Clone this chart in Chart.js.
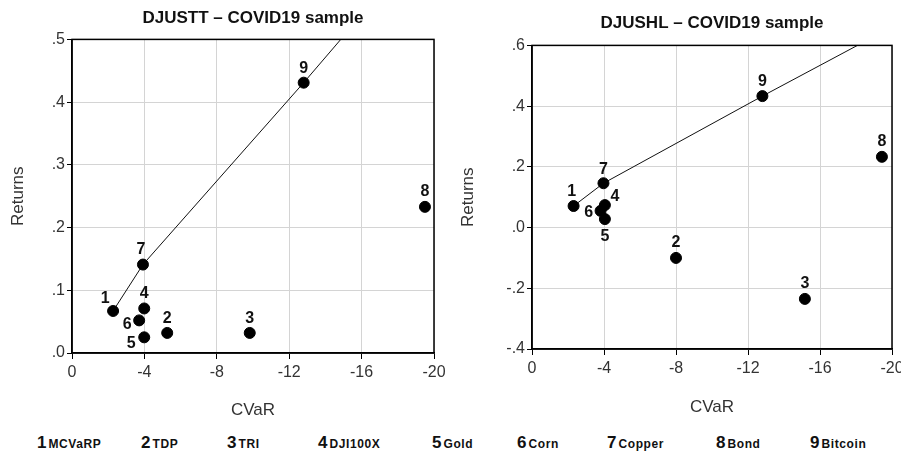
<!DOCTYPE html>
<html>
<head>
<meta charset="utf-8">
<script src="https://cdn.jsdelivr.net/npm/chart.js@4.4.1/dist/chart.umd.min.js"></script>
<style>
  html, body { margin: 0; padding: 0; background: #fff; overflow: hidden; }
  body { width: 901px; height: 455px; position: relative; font-family: "Liberation Sans", Arial, sans-serif; }
  canvas { position: absolute; top: 0; }
  #c1 { left: 0; }
  #c2 { left: 450px; }
  .leg { position: absolute; top: 433px; white-space: nowrap; color: #111; font-weight: bold; }
  .leg b { font-size: 17px; }
  .leg span { font-size: 12px; letter-spacing: 0.6px; margin-left: 2px; }
</style>
</head>
<body>
<canvas id="c1" width="450" height="425"></canvas>
<canvas id="c2" width="459" height="425"></canvas>
<div id="legend"></div>
<script>
// assets (1..9)
const assetNames = ["MCVaRP", "TDP", "TRI", "DJI100X", "Gold", "Corn", "Copper", "Bond", "Bitcoin"];
const assetIds = ["1", "2", "3", "4", "5", "6", "7", "8", "9"];

// DJUSTT panel
const djusttCVaR = [-2.27, -5.26, -9.82, -3.99, -3.99, -3.71, -3.92, -19.5, -12.8];
const djusttRet = [0.067, 0.032, 0.032, 0.071, 0.025, 0.052, 0.141, 0.233, 0.431];
const djusttFrontX = [-2.27, -3.92, -12.8, -14.85];
const djusttFrontY = [0.067, 0.141, 0.431, 0.5];

// DJUSHL panel
const djushlCVaR = [-2.31, -8.0, -15.16, -4.05, -4.05, -3.81, -3.97, -19.44, -12.8];
const djushlRet = [0.071, -0.100, -0.235, 0.074, 0.028, 0.055, 0.146, 0.233, 0.433];
const djushlFrontX = [-2.31, -3.97, -12.8, -18.08];
const djushlFrontY = [0.071, 0.146, 0.433, 0.6];

// label placement around each point (dx, dy in px)
const labelOffL = [[-8, -12], [0, -14], [0, -14], [0, -15], [-13, 6], [-12, 4], [-2, -15], [0, -15], [0, -14]];
const labelOffR = [[-2, -14], [0, -15], [0, -15], [10, -8], [0, 18], [-12, 2], [0, -14], [0, -15], [0, -15]];

const legendX = [37, 141, 227, 318, 432, 517, 607, 716, 810];

const FONT = "'Liberation Sans', Arial, sans-serif";

const pointLabels = {
  id: 'pointLabels',
  afterDatasetsDraw(chart, args, opts) {
    const ctx = chart.ctx;
    const meta = chart.getDatasetMeta(1);
    ctx.save();
    ctx.font = 'bold 16px ' + FONT;
    ctx.fillStyle = '#111';
    ctx.textAlign = 'center';
    ctx.textBaseline = 'middle';
    meta.data.forEach((pt, i) => {
      const off = opts.offsets[i];
      ctx.fillText(assetIds[i], pt.x + off[0], pt.y + off[1]);
    });
    ctx.restore();
  }
};

const frame = {
  id: 'frame',
  afterDraw(chart) {
    const a = chart.chartArea;
    const ctx = chart.ctx;
    ctx.save();
    ctx.strokeStyle = '#000';
    ctx.lineWidth = 1.5;
    ctx.strokeRect(a.left, a.top, a.right - a.left, a.bottom - a.top);
    ctx.restore();
  }
};

function makeChart(id, o) {
  const pts = o.xs.map((x, i) => ({ x: x, y: o.ys[i] }));
  const front = o.fx.map((x, i) => ({ x: x, y: o.fy[i] }));
  return new Chart(document.getElementById(id), {
    type: 'scatter',
    data: {
      datasets: [
        {
          data: front,
          showLine: true,
          borderColor: '#111',
          borderWidth: 1,
          pointRadius: 0,
          order: 2
        },
        {
          data: pts,
          backgroundColor: '#000',
          borderColor: '#000',
          pointRadius: 5.5,
          order: 1
        }
      ]
    },
    options: {
      responsive: false,
      animation: false,
      layout: { padding: { left: 0, right: o.padRight, top: 0, bottom: 0 } },
      plugins: {
        legend: { display: false },
        tooltip: { enabled: false },
        title: {
          display: true,
          text: o.title,
          fullSize: false,
          color: '#111',
          font: { family: FONT, size: 17, weight: 'bold' },
          padding: { top: o.titleTop, bottom: o.titleBottom }
        },
        pointLabels: { offsets: o.offsets }
      },
      scales: {
        x: {
          type: 'linear',
          min: -20,
          max: 0,
          reverse: true,
          afterFit: s => { s.height = o.xHeight; },
          ticks: {
            stepSize: 4,
            color: '#333',
            padding: 4,
            font: { family: FONT, size: 16 },
            callback: v => String(v)
          },
          grid: { color: '#d4d4d4', tickColor: '#000', tickLength: 6 },
          border: { color: '#000', width: 1.5 },
          title: {
            display: true,
            text: 'CVaR',
            color: '#333',
            font: { family: FONT, size: 17 },
            padding: { top: 0, bottom: o.xTitleBottom }
          }
        },
        y: {
          type: 'linear',
          min: o.yMin,
          max: o.yMax,
          afterFit: s => { s.width = o.yWidth; },
          ticks: {
            stepSize: o.yStep,
            color: '#333',
            padding: 2,
            font: { family: FONT, size: 16 },
            callback: v => v.toFixed(1).replace(/^(-?)0\./, '$1.')
          },
          grid: { color: '#d4d4d4', tickColor: '#000', tickLength: 5 },
          border: { color: '#000', width: 1.5 },
          title: {
            display: true,
            text: 'Returns',
            color: '#333',
            font: { family: FONT, size: 17 },
            padding: { top: 8, bottom: 0 }
          }
        }
      }
    },
    plugins: [pointLabels, frame]
  });
}

makeChart('c1', {
  title: 'DJUSTT \u2013 COVID19 sample',
  xs: djusttCVaR, ys: djusttRet, fx: djusttFrontX, fy: djusttFrontY,
  offsets: labelOffL,
  yMin: 0, yMax: 0.5, yStep: 0.1,
  yWidth: 72, xHeight: 72, padRight: 16,
  titleTop: 8, titleBottom: 11, xTitleBottom: 4
});

makeChart('c2', {
  title: 'DJUSHL \u2013 COVID19 sample',
  xs: djushlCVaR, ys: djushlRet, fx: djushlFrontX, fy: djushlFrontY,
  offsets: labelOffR,
  yMin: -0.4, yMax: 0.6, yStep: 0.2,
  yWidth: 82, xHeight: 76, padRight: 17,
  titleTop: 13, titleBottom: 12, xTitleBottom: 7
});

const legend = document.getElementById('legend');
assetIds.forEach((n, i) => {
  const d = document.createElement('div');
  d.className = 'leg';
  d.style.left = legendX[i] + 'px';
  d.innerHTML = '<b>' + n + '</b><span>' + assetNames[i] + '</span>';
  legend.appendChild(d);
});
</script>
</body>
</html>
